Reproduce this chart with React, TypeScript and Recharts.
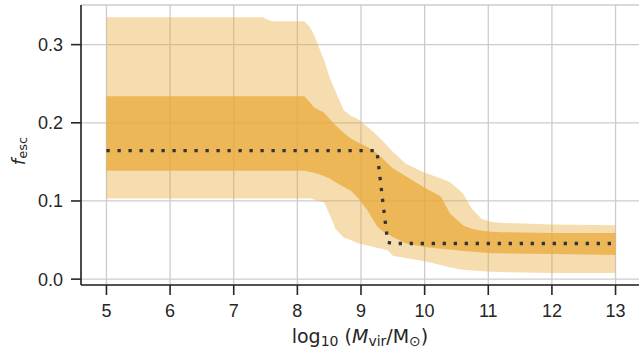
import { ComposedChart, Area, Line, XAxis, YAxis, CartesianGrid, Label } from 'recharts';

// log10 halo mass grid
const logMass = [
  5, 7.45, 7.6, 8.0, 8.11, 8.2, 8.26, 8.42, 8.52, 8.6, 8.73, 8.84, 8.95, 9.1, 9.25, 9.33, 9.42, 9.5, 9.7,
  10.0, 10.25, 10.4, 10.6, 10.75, 10.9, 11.05, 11.2, 12.0, 13.0,
];
const outerHigh = [
  0.335, 0.335, 0.33, 0.33, 0.33, 0.322, 0.313, 0.28, 0.255, 0.24, 0.216, 0.209, 0.205, 0.195, 0.184, 0.178,
  0.17, 0.163, 0.148, 0.136, 0.129, 0.124, 0.11, 0.089, 0.077, 0.073, 0.072, 0.07, 0.069,
];
const outerLow = [
  0.103, 0.103, 0.103, 0.103, 0.103, 0.103, 0.102, 0.098, 0.08, 0.064, 0.053, 0.05, 0.046, 0.043, 0.04, 0.039,
  0.037, 0.03, 0.027, 0.023, 0.018, 0.015, 0.012, 0.011, 0.01, 0.0095, 0.009, 0.008, 0.008,
];
const innerHigh = [
  0.234, 0.234, 0.234, 0.234, 0.234, 0.226, 0.22, 0.213, 0.204, 0.197, 0.187, 0.18, 0.175, 0.169, 0.161, 0.155,
  0.148, 0.142, 0.132, 0.117, 0.106, 0.084, 0.069, 0.064, 0.062, 0.0605, 0.06, 0.059, 0.059,
];
const innerLow = [
  0.1385, 0.1385, 0.1385, 0.1385, 0.1385, 0.137, 0.136, 0.132, 0.128, 0.124, 0.118, 0.113, 0.104, 0.088, 0.068,
  0.062, 0.058, 0.054, 0.046, 0.041, 0.039, 0.038, 0.036, 0.035, 0.034, 0.033, 0.033, 0.032, 0.031,
];
const median = [
  0.1645, 0.1645, 0.1645, 0.1645, 0.1645, 0.1645, 0.1645, 0.1645, 0.1645, 0.1645, 0.1645, 0.1645, 0.1645, 0.1645,
  0.1645, 0.108, 0.047, 0.0456, 0.0456, 0.0456, 0.0456, 0.0456, 0.0456, 0.0456, 0.0456, 0.0456, 0.0456, 0.0456,
  0.0456,
];

const xTicks = [5, 6, 7, 8, 9, 10, 11, 12, 13];
const yTicks = [0, 0.1, 0.2, 0.3];

const data = logMass.map((x, i) => ({
  x,
  outer: [outerLow[i], outerHigh[i]],
  inner: [innerLow[i], innerHigh[i]],
  median: median[i],
}));

const font = '"Liberation Sans", Arial, sans-serif';
const mathFont = '"DejaVu Sans", sans-serif';
const ink = '#262626';
const bandColor = '#e9a93a';

const XTitle = () => (
  <text x={360} y={343} textAnchor="middle" fontSize={19} fill={ink} fontFamily={mathFont}>
    log
    <tspan fontSize={14} dy={3}>10</tspan>
    <tspan dy={-3}> (</tspan>
    <tspan fontStyle="italic">M</tspan>
    <tspan fontSize={14} dy={3}>vir</tspan>
    <tspan dy={-3}>/M</tspan>
    <tspan fontSize={14} dy={3}>⊙</tspan>
    <tspan dy={-3}>)</tspan>
  </text>
);

const YTitle = () => (
  <text
    x={0}
    y={0}
    transform="translate(25, 151) rotate(-90)"
    textAnchor="middle"
    fontSize={18}
    fill={ink}
    fontFamily={mathFont}
  >
    <tspan fontStyle="italic">f</tspan>
    <tspan fontSize={13} dy={2}>esc</tspan>
  </text>
);

export default function App() {
  return (
    <div style={{ position: 'absolute', left: 0, top: 0, width: 639, height: 351, overflow: 'hidden', background: '#fff' }}>
      <ComposedChart width={641} height={351} data={data} margin={{ top: 5, right: 0, bottom: 0, left: 0 }}>
        <CartesianGrid stroke="#cccccc" strokeWidth={1.3} />
        <XAxis
          type="number"
          dataKey="x"
          domain={[4.6, 13.4]}
          ticks={xTicks}
          interval={0}
          allowDataOverflow
          height={66}
          tickSize={10}
          tickMargin={9}
          axisLine={{ stroke: ink, strokeWidth: 1.6 }}
          tickLine={{ stroke: ink, strokeWidth: 1.6 }}
          tick={{ fontSize: 18, fill: ink, fontFamily: font }}
        >
          <Label content={<XTitle />} />
        </XAxis>
        <YAxis
          type="number"
          domain={[-0.0075, 0.3507]}
          ticks={yTicks}
          interval={0}
          allowDataOverflow
          width={81}
          tickSize={10}
          tickMargin={8}
          tickFormatter={(v: number) => v.toFixed(1)}
          axisLine={{ stroke: ink, strokeWidth: 1.6 }}
          tickLine={{ stroke: ink, strokeWidth: 1.6 }}
          tick={{ fontSize: 18, fill: ink, fontFamily: font }}
        >
          <Label content={<YTitle />} />
        </YAxis>
        <Area
          type="linear"
          dataKey="outer"
          stroke="none"
          fill={bandColor}
          fillOpacity={0.4}
          isAnimationActive={false}
        />
        <Area
          type="linear"
          dataKey="inner"
          stroke="none"
          fill={bandColor}
          fillOpacity={0.75}
          isAnimationActive={false}
        />
        <Line
          type="linear"
          dataKey="median"
          stroke="#333333"
          strokeWidth={3.3}
          strokeDasharray="3.3 7.7"
          dot={false}
          activeDot={false}
          isAnimationActive={false}
        />
      </ComposedChart>
    </div>
  );
}
